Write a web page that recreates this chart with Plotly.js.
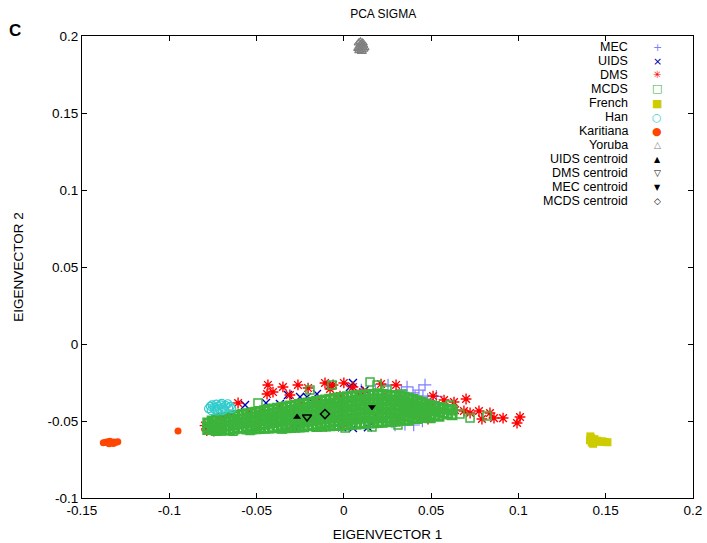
<!DOCTYPE html>
<html><head><meta charset="utf-8">
<script src="https://cdn.plot.ly/plotly-3.0.1.min.js"></script>
<style>html,body{margin:0;padding:0;background:#fff}#chart{width:707px;height:543px}</style>
</head><body><div id="chart"></div>
<script>
// ---- data (EIGENVECTOR 1, EIGENVECTOR 2) ----
const mecPts = [[0.0465,-0.0266],[0.0362,-0.0279],[0.0408,-0.0344],[0.0453,-0.0338],[0.0310,-0.0338],
  [0.0236,-0.0487],[0.0276,-0.0506],[0.0253,-0.0266],[0.0511,-0.0396],[0.0396,-0.0318],[0.0530,-0.0340],
  [0.0293,-0.0526],[0.0400,-0.0526],[0.0180,-0.0300],[0.0330,-0.0300],[0.0430,-0.0300],[0.0480,-0.0360],
  [0.0540,-0.0420],[0.0350,-0.0520],[0.0450,-0.0500],[0.0100,-0.0299],[0.0100,-0.0400],[0.0150,-0.0450],
  [0.0050,-0.0420],[0.0200,-0.0380],[-0.0050,-0.0440],[0.0300,-0.0420],[0.0250,-0.0360],[0.0380,-0.0450]];

const uidsPts = [[-0.0566,-0.0396],[-0.0446,-0.0383],[-0.0366,-0.0390],[-0.0320,-0.0331],[-0.0251,-0.0344],
  [-0.0211,-0.0344],[-0.0154,-0.0325],[-0.0079,-0.0266],[0.0035,-0.0279],[0.0052,-0.0253],[0.0121,-0.0299],
  [-0.0119,-0.0540],[0.0052,-0.0545],[0.0138,-0.0540],[-0.0280,-0.0545],[-0.0010,-0.0540],
  [-0.0400,-0.0480],[-0.0200,-0.0460],[0.0000,-0.0420],[0.0200,-0.0440],[-0.0600,-0.0500]];

const dmsPts = [[-0.0606,-0.0383],[-0.0435,-0.0266],[-0.0406,-0.0312],[-0.0349,-0.0279],[-0.0309,-0.0331],
  [-0.0263,-0.0266],[-0.0205,-0.0286],[-0.0108,-0.0253],[-0.0062,-0.0266],[0.0000,-0.0253],[0.0052,-0.0279],
  [0.0110,-0.0312],[0.0213,-0.0260],[0.0299,-0.0266],[-0.0079,-0.0292],[-0.0440,-0.0325],[0.0511,-0.0338],
  [0.0574,-0.0364],[0.0631,-0.0377],[0.0700,-0.0357],[0.0688,-0.0435],[0.0774,-0.0435],[0.0791,-0.0487],
  [0.0837,-0.0448],[0.0860,-0.0481],[0.0912,-0.0481],[0.0992,-0.0513],[0.1009,-0.0474],[0.0493,-0.0396],
  [0.0419,-0.0442],[0.0482,-0.0487],
  [-0.0795,-0.0530],[-0.0750,-0.0545],[-0.0698,-0.0474],[-0.0652,-0.0461],[-0.0538,-0.0448],[-0.0469,-0.0435],
  [-0.0366,-0.0416],[-0.0251,-0.0390],[-0.0148,-0.0364],[-0.0022,-0.0338],[0.0092,-0.0325],[0.0236,-0.0331],
  [0.0350,-0.0357],[0.0436,-0.0409],[0.0551,-0.0429],[0.0637,-0.0429],[0.0723,-0.0448],
  [-0.0700,-0.0558],[-0.0500,-0.0550],[-0.0300,-0.0540],[0.0000,-0.0520],[0.0300,-0.0500],
  [0.0400,-0.0400],[0.0450,-0.0460],[0.0520,-0.0440],[-0.0785,-0.0562],[-0.0745,-0.0566]];

const mcdsPts = [[-0.0492,-0.0383],[-0.0068,-0.0266],[0.0150,-0.0247],[0.0190,-0.0266],[0.0247,-0.0299],
  [0.0333,-0.0325],[0.0820,-0.0468],[0.0608,-0.0396],[0.0562,-0.0422],[-0.0194,-0.0299],[-0.0635,-0.0566],
  [-0.0538,-0.0562],[-0.0354,-0.0552],[-0.0268,-0.0539],[0.0007,-0.0545],[0.0161,-0.0539],[0.0310,-0.0526],
  [0.0723,-0.0481],[0.0665,-0.0455]];
// dense MCDS core, read column by column
const mcdsCoreX = [-0.0780,-0.0755,-0.0730,-0.0705,-0.0680,-0.0655,-0.0630,-0.0605,-0.0580,-0.0555,
  -0.0530,-0.0505,-0.0480,-0.0455,-0.0430,-0.0405,-0.0380,-0.0355,-0.0330,-0.0305,-0.0280,-0.0255,-0.0230,
  -0.0205,-0.0180,-0.0155,-0.0130,-0.0105,-0.0080,-0.0055,-0.0030,-0.0005,0.0020,0.0045,0.0070,0.0095,0.0120,
  0.0145,0.0170,0.0195,0.0220,0.0245,0.0270,0.0295,0.0320,0.0345,0.0370,0.0395,0.0420,0.0445,0.0470,0.0495,
  0.0520,0.0545,0.0570,0.0595,0.0620];
const mcdsCoreY = [
  [-0.0512,-0.0538,-0.0556],[-0.0500,-0.0528,-0.0555],[-0.0492,-0.0520,-0.0548,-0.0562],
  [-0.0485,-0.0514,-0.0542,-0.0560],[-0.0478,-0.0506,-0.0535,-0.0559],[-0.0473,-0.0500,-0.0530,-0.0557],
  [-0.0467,-0.0495,-0.0524,-0.0552],[-0.0462,-0.0490,-0.0520,-0.0548],[-0.0457,-0.0485,-0.0514,-0.0546],
  [-0.0452,-0.0480,-0.0510,-0.0540,-0.0553],[-0.0447,-0.0476,-0.0505,-0.0535,-0.0552],
  [-0.0442,-0.0471,-0.0500,-0.0530,-0.0551],[-0.0437,-0.0466,-0.0496,-0.0526,-0.0550],
  [-0.0432,-0.0461,-0.0491,-0.0521,-0.0548],[-0.0427,-0.0456,-0.0486,-0.0516,-0.0546],
  [-0.0422,-0.0451,-0.0481,-0.0511,-0.0544],[-0.0417,-0.0446,-0.0476,-0.0506,-0.0536],
  [-0.0412,-0.0441,-0.0471,-0.0501,-0.0531,-0.0546],[-0.0407,-0.0436,-0.0466,-0.0496,-0.0526,-0.0545],
  [-0.0402,-0.0431,-0.0461,-0.0491,-0.0521,-0.0543],[-0.0397,-0.0427,-0.0457,-0.0487,-0.0517,-0.0541],
  [-0.0392,-0.0422,-0.0452,-0.0482,-0.0512,-0.0540],[-0.0387,-0.0417,-0.0447,-0.0477,-0.0507,-0.0538],
  [-0.0382,-0.0412,-0.0442,-0.0472,-0.0502,-0.0532],[-0.0378,-0.0408,-0.0438,-0.0468,-0.0498,-0.0528],
  [-0.0373,-0.0403,-0.0433,-0.0463,-0.0493,-0.0523,-0.0536],[-0.0368,-0.0398,-0.0428,-0.0458,-0.0488,-0.0518,-0.0535],
  [-0.0363,-0.0393,-0.0423,-0.0453,-0.0483,-0.0513,-0.0533],[-0.0358,-0.0388,-0.0418,-0.0448,-0.0478,-0.0508,-0.0532],
  [-0.0354,-0.0384,-0.0414,-0.0444,-0.0474,-0.0504,-0.0530],[-0.0350,-0.0380,-0.0410,-0.0440,-0.0470,-0.0500,-0.0529],
  [-0.0346,-0.0376,-0.0406,-0.0436,-0.0466,-0.0496,-0.0527],[-0.0342,-0.0372,-0.0402,-0.0432,-0.0462,-0.0492,-0.0525],
  [-0.0339,-0.0369,-0.0399,-0.0429,-0.0459,-0.0489,-0.0522],[-0.0336,-0.0366,-0.0396,-0.0426,-0.0456,-0.0486,-0.0520],
  [-0.0333,-0.0363,-0.0393,-0.0423,-0.0453,-0.0483,-0.0518],[-0.0330,-0.0360,-0.0390,-0.0420,-0.0450,-0.0480,-0.0516],
  [-0.0328,-0.0358,-0.0388,-0.0418,-0.0448,-0.0478,-0.0514],[-0.0327,-0.0357,-0.0387,-0.0417,-0.0447,-0.0477,-0.0512],
  [-0.0327,-0.0357,-0.0387,-0.0417,-0.0447,-0.0477,-0.0510],[-0.0328,-0.0358,-0.0388,-0.0418,-0.0448,-0.0478,-0.0508],
  [-0.0330,-0.0360,-0.0390,-0.0420,-0.0450,-0.0480,-0.0506],[-0.0333,-0.0363,-0.0393,-0.0423,-0.0453,-0.0483,-0.0504],
  [-0.0336,-0.0366,-0.0396,-0.0426,-0.0456,-0.0486,-0.0502],[-0.0340,-0.0370,-0.0400,-0.0430,-0.0460,-0.0490],
  [-0.0345,-0.0375,-0.0405,-0.0435,-0.0465,-0.0495],[-0.0352,-0.0382,-0.0412,-0.0442,-0.0472,-0.0495],
  [-0.0360,-0.0390,-0.0420,-0.0450,-0.0480],[-0.0370,-0.0400,-0.0430,-0.0460,-0.0485],
  [-0.0380,-0.0410,-0.0440,-0.0470],[-0.0390,-0.0420,-0.0450,-0.0478],[-0.0398,-0.0428,-0.0458,-0.0480],
  [-0.0405,-0.0435,-0.0465],[-0.0412,-0.0442,-0.0470],[-0.0420,-0.0450],[-0.0425,-0.0455],[-0.0430,-0.0460]];

const frenchPts = [[0.1412,-0.0600],[0.1418,-0.0612],[0.1410,-0.0625],[0.1420,-0.0640],[0.1428,-0.0648],
  [0.1440,-0.0632],[0.1452,-0.0628],[0.1465,-0.0635],[0.1480,-0.0632],[0.1495,-0.0636],[0.1510,-0.0638],[0.1435,-0.0618]];

const hanPts = [[-0.0775,-0.0420],[-0.0765,-0.0405],[-0.0755,-0.0395],[-0.0745,-0.0410],[-0.0740,-0.0425],
  [-0.0730,-0.0390],[-0.0720,-0.0405],[-0.0715,-0.0420],[-0.0705,-0.0395],[-0.0700,-0.0385],[-0.0690,-0.0410],
  [-0.0685,-0.0425],[-0.0675,-0.0400],[-0.0665,-0.0388],[-0.0660,-0.0415],[-0.0650,-0.0405],[-0.0642,-0.0420],
  [-0.0725,-0.0435],[-0.0760,-0.0432],[-0.0695,-0.0432]];

const karitianaPts = [[-0.1378,-0.0642],[-0.1365,-0.0638],[-0.1352,-0.0634],[-0.1340,-0.0632],[-0.1330,-0.0640],
  [-0.1318,-0.0636],[-0.1305,-0.0638],[-0.1295,-0.0634],[-0.1345,-0.0648],[-0.1320,-0.0646],[-0.0950,-0.0565]];

const yorubaPts = [[0.0082,0.1920],[0.0090,0.1935],[0.0098,0.1948],[0.0105,0.1930],[0.0112,0.1915],[0.0088,0.1905],
  [0.0100,0.1910],[0.0110,0.1940],[0.0095,0.1962],[0.0085,0.1955],[0.0118,0.1925],[0.0103,0.1900],[0.0092,0.1925],[0.0108,0.1955]];

const uidsCentroid = [[-0.0268,-0.0474]];
const dmsCentroid  = [[-0.0211,-0.0474]];
const mecCentroid  = [[0.0161,-0.0409]];
const mcdsCentroid = [[-0.0108,-0.0455]];

const legendLabels = ['MEC','UIDS','DMS','MCDS','French','Han','Karitiana','Yoruba',
  'UIDS centroid','DMS centroid','MEC centroid','MCDS centroid'];
const xTickVals = [-0.15,-0.1,-0.05,0,0.05,0.1,0.15,0.2];
const xTickText = ['-0.15','-0.1','-0.05','0','0.05','0.1','0.15','0.2'];
const yTickVals = [-0.1,-0.05,0,0.05,0.1,0.15,0.2];
const yTickText = ['-0.1','-0.05','0','0.05','0.1','0.15','0.2'];

// ---- build traces ----
const X = p => p.map(d => d[0]);
const Y = p => p.map(d => d[1]);
const coreX = [], coreY = [];
mcdsCoreX.forEach((x, i) => mcdsCoreY[i].forEach(y => { coreX.push(x); coreY.push(y); }));

function tr(name, x, y, symbol, color, size, lw) {
  return {type:'scatter', mode:'markers', name:name, x:x, y:y, hoverinfo:'skip', showlegend:false,
    marker:{symbol:symbol, color:color, size:size, line:{color:color, width:lw}}};
}
const GREEN = '#3cb43c';
const traces = [
  tr('MEC', X(mecPts), Y(mecPts), 'cross-thin-open', '#7f7fff', 9, 1.2),
  tr('UIDS', X(uidsPts), Y(uidsPts), 'x-thin-open', '#0000b4', 8, 1.4),
  tr('DMS', X(dmsPts), Y(dmsPts), 'asterisk-open', '#ff0000', 9, 1.4),
  tr('MCDS', coreX, coreY, 'square-open', GREEN, 8, 2.8),
  tr('MCDS', X(mcdsPts), Y(mcdsPts), 'square-open', GREEN, 8, 1.5),
  tr('French', X(frenchPts), Y(frenchPts), 'square', '#cccc00', 8, 0),
  tr('Han', X(hanPts), Y(hanPts), 'circle-open', '#33cccc', 8, 1.2),
  tr('Karitiana', X(karitianaPts), Y(karitianaPts), 'circle', '#ff4500', 7, 0),
  tr('Yoruba', X(yorubaPts), Y(yorubaPts), 'triangle-up-open', '#808080', 8, 1.2),
  tr('UIDS centroid', X(uidsCentroid), Y(uidsCentroid), 'triangle-up', '#000000', 7, 0),
  tr('DMS centroid', X(dmsCentroid), Y(dmsCentroid), 'triangle-down-open', '#000000', 8, 1.5),
  tr('MEC centroid', X(mecCentroid), Y(mecCentroid), 'triangle-down', '#000000', 7, 0),
  tr('MCDS centroid', X(mcdsCentroid), Y(mcdsCentroid), 'diamond-open', '#000000', 7, 1.5)
];

// gnuplot-style key: right-aligned label, then the point symbol
const keyGlyphs = [['+','#7f7fff',11],['\u00d7','#0000b4',11],['\u2733','#ff0000',10],['\u25a1',GREEN,11],
  ['\u25a0','#cccc00',11],['\u25cb','#33cccc',11],['\u25cf','#ff4500',11],['\u25b3','#808080',9],
  ['\u25b2','#000000',8],['\u25bd','#000000',9],['\u25bc','#000000',8],['\u25c7','#000000',9]];
const plotL = 82, plotW = 611, plotT = 36, plotH = 462;
const ROW = 14.0;
const annotations = [{text:'<b>C</b>', xref:'paper', yref:'paper', x:(15-plotL)/plotW, y:(plotT+plotH-30)/plotH,
  xanchor:'center', yanchor:'middle', showarrow:false, font:{size:17, color:'#000'}}];
legendLabels.forEach((lab, i) => {
  const py = 47 + i * ROW;
  const yp = (plotT + plotH - py) / plotH;
  annotations.push({text:lab, xref:'paper', yref:'paper', x:(629-plotL)/plotW, y:yp, xanchor:'right',
    yanchor:'middle', borderpad:0, showarrow:false, font:{size:12.5, color:'#000'}});
  annotations.push({text:keyGlyphs[i][0], xref:'paper', yref:'paper', x:(657-plotL)/plotW, y:yp, xanchor:'center',
    yanchor:'middle', borderpad:0, showarrow:false,
    font:{size:keyGlyphs[i][2], color:keyGlyphs[i][1], family:'DejaVu Sans'}});
});

const FONT = 'Liberation Sans, Arial, Helvetica, sans-serif';
const axisCommon = {ticks:'inside', ticklen:5, tickwidth:1, tickcolor:'#000', mirror:'ticks', showline:true,
  linecolor:'#000', linewidth:1, showgrid:false, zeroline:false, tickfont:{size:13.5, color:'#000'}};
const layout = {
  width:707, height:543, paper_bgcolor:'#fff', plot_bgcolor:'#fff',
  font:{family:FONT, color:'#000', size:13.5},
  margin:{l:plotL, r:707-plotL-plotW, t:plotT, b:543-plotT-plotH},
  title:{text:'PCA SIGMA', font:{size:12}, x:0.542, xanchor:'center', y:0.974, yanchor:'middle'},
  xaxis:Object.assign({}, axisCommon, {range:[-0.15,0.2], tickmode:'array', tickvals:xTickVals, ticktext:xTickText,
    title:{text:'EIGENVECTOR 1', font:{size:13.5}, standoff:12}}),
  yaxis:Object.assign({}, axisCommon, {range:[-0.1,0.2], tickmode:'array', tickvals:yTickVals, ticktext:yTickText,
    title:{text:'EIGENVECTOR 2', font:{size:13.5}, standoff:20}}),
  showlegend:false,
  annotations:annotations
};
Plotly.newPlot('chart', traces, layout, {staticPlot:true, displayModeBar:false});
</script></body></html>
